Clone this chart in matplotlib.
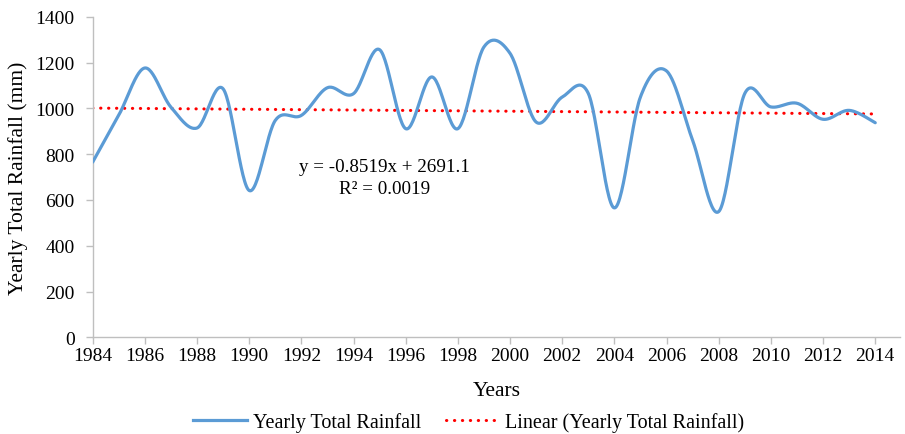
import numpy as np
import matplotlib.pyplot as plt
from matplotlib.lines import Line2D

plt.rcParams['font.family'] = ['Liberation Serif', 'DejaVu Serif']

years = np.arange(1984, 2015)
rainfall = [765, 970, 1176, 1005, 914, 1085, 641, 947, 969, 1090, 1064,
            1256, 911, 1137, 911, 1268, 1240, 940, 1049, 1065, 565,
            1050, 1163, 860, 549, 1065, 1006, 1022, 952, 991, 937]
slope = -0.8519
intercept = 2691.1
eq_text = "y = -0.8519x + 2691.1"
r2_text = "R² = 0.0019"
xticks = np.arange(1984, 2015, 2)
yticks = np.arange(0, 1401, 200)


def smooth_curve(x, y, n=30):
    # excel style smoothing: bezier through points, catmull-rom control points
    x = np.asarray(x, float)
    y = np.asarray(y, float)
    px = np.concatenate([[x[0]], x, [x[-1]]])
    py = np.concatenate([[y[0]], y, [y[-1]]])
    t = np.linspace(0, 1, n)
    out_x, out_y = [], []
    for i in range(1, len(px) - 2):
        p0 = np.array([px[i], py[i]])
        p3 = np.array([px[i + 1], py[i + 1]])
        c1 = p0 + (p3 - np.array([px[i - 1], py[i - 1]])) / 6
        c2 = p3 - (np.array([px[i + 2], py[i + 2]]) - p0) / 6
        b = ((1 - t) ** 3)[:, None] * p0 + (3 * (1 - t) ** 2 * t)[:, None] * c1 \
            + (3 * (1 - t) * t ** 2)[:, None] * c2 + (t ** 3)[:, None] * p3
        out_x.extend(b[:, 0])
        out_y.extend(b[:, 1])
    return np.array(out_x), np.array(out_y)


fig = plt.figure(figsize=(9.05, 4.35), dpi=100)
ax = fig.add_axes([0.1024, 0.2223, 0.8921, 0.737])

sx, sy = smooth_curve(years, rainfall)
blue = '#5B9BD5'
red_dots = (0, (0.1, 2.5))
ax.plot(sx, sy, color=blue, lw=2.3, solid_capstyle='round', zorder=3)

trend_x = np.array([years[0], years[-1]])
ax.plot(trend_x, slope * trend_x + intercept, color='#FF0000', lw=2.2,
        linestyle=red_dots, dash_capstyle='round', zorder=2)

ax.text(1995.2, 744, eq_text, ha='center', va='center', fontsize=13.7)
ax.text(1995.2, 648, r2_text, ha='center', va='center', fontsize=13.7)

ax.set_xlim(1984, 2014.95)
ax.set_ylim(0, 1400)
ax.set_xticks(xticks)
ax.set_yticks(yticks)
ax.tick_params(axis='both', labelsize=14, color='#BFBFBF', length=5, width=1)
ax.tick_params(axis='x', pad=2)
ax.tick_params(axis='y', pad=8)
for s in ['top', 'right']:
    ax.spines[s].set_visible(False)
for s in ['left', 'bottom']:
    ax.spines[s].set_color('#BFBFBF')
    ax.spines[s].set_linewidth(1)

ax.set_xlabel('Years', fontsize=15.5, labelpad=12)
ax.set_ylabel('Yearly Total Rainfall (mm)', fontsize=15.5, labelpad=5)

handles = [Line2D([], [], color=blue, lw=2.3),
           Line2D([], [], color='#FF0000', lw=2.2, linestyle=red_dots,
                  dash_capstyle='round')]
fig.legend(handles, ['Yearly Total Rainfall', 'Linear (Yearly Total Rainfall)'],
           loc='center', bbox_to_anchor=(0.518, 0.027), ncol=2, frameon=False,
           fontsize=14.5, handlelength=2.7, columnspacing=1.25, handletextpad=0.25)

fig.savefig('out.png', dpi=100)
